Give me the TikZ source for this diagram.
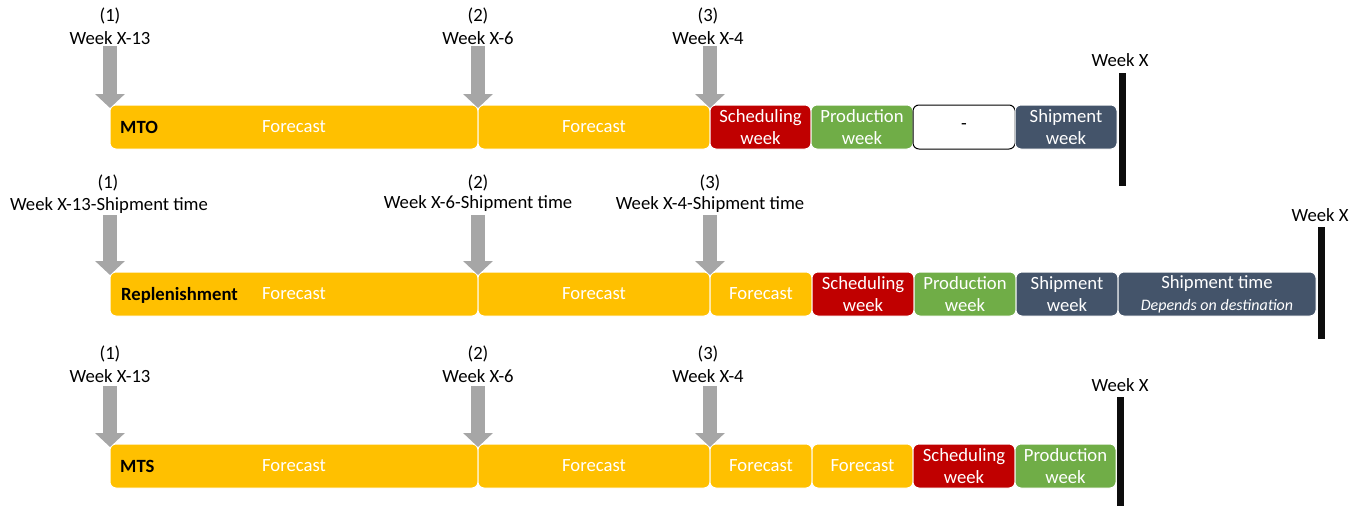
\documentclass[tikz,border=0pt]{standalone}
\usepackage{fontspec}
\setmainfont{Carlito}
\usetikzlibrary{arrows.meta}
\definecolor{fcyel}{HTML}{FFC000}
\definecolor{schred}{HTML}{C00000}
\definecolor{prodgreen}{HTML}{70AD47}
\definecolor{shipslate}{HTML}{44546A}
\definecolor{arrowgray}{HTML}{A6A6A6}
\definecolor{barblack}{HTML}{0D0D0D}
\newcommand\lblfont{\fontsize{18.67}{22}\selectfont}
\newcommand\boxfont{\fontsize{18.67}{22}\selectfont}
\newcommand\notefont{\fontsize{16}{20}\selectfont\itshape}
\begin{document}
\begin{tikzpicture}[x=1pt,y=-1pt,
  lbl/.style={font=\lblfont, inner sep=0pt, text=black},
  kind/.style={font=\lblfont\bfseries, inner sep=0pt, text=black, anchor=west},
  bx/.style={rounded corners=6pt, draw=white, line width=1pt, minimum height=44pt,
             inner sep=0pt, outer sep=0pt, anchor=north west, font=\boxfont,
             text=white, align=center},
  fcbox/.style={bx, fill=fcyel},
  schbox/.style={bx, fill=schred},
  prodbox/.style={bx, fill=prodgreen},
  shipbox/.style={bx, fill=shipslate},
  emptybox/.style={bx, fill=white, draw=black, text=black},
  garrow/.style={draw=arrowgray, line width=14pt,
                 -{Triangle[width=29pt,length=14pt]}, shorten >=-3pt},
  wkbar/.style={draw=barblack, line width=7pt}
]
\useasboundingbox (0,0) rectangle (1366,506);

% ---------------- MTO ----------------
\node[fcbox, minimum width=368pt] (f11) at (110,105) {Forecast};
\node[fcbox, minimum width=232pt] (f12) at (478,105) {Forecast};
\node[schbox, minimum width=101pt] (s1) at (710,105) {Scheduling\\week};
\node[prodbox, minimum width=102pt] (p1) at (811,105) {Production\\week};
\node[emptybox, minimum width=102pt] (d1) at (913,105) {-};
\node[shipbox, minimum width=102pt] (h1) at (1015,105) {Shipment\\week};
\node[kind] (k1) at (120,127) {MTO};

\node[lbl] (n11) at (110,16) {(1)};
\node[lbl] (w11) at (110,38) {Week X-13};
\node[lbl] (n12) at (478,16) {(2)};
\node[lbl] (w12) at (478,38) {Week X-6};
\node[lbl] (n13) at (708,16) {(3)};
\node[lbl] (w13) at (708,38) {Week X-4};
\coordinate (a11) at (110,46);
\coordinate (a12) at (478,46);
\coordinate (a13) at (710,46);
\draw[garrow] (a11) -- (f11.north west);
\draw[garrow] (a12) -- (f12.north west);
\draw[garrow] (a13) -- (s1.north west);

\coordinate (b1t) at (1122,73);
\coordinate (b1b) at (1122,186);
\draw[wkbar] (b1t) -- (b1b);
\node[lbl] (x1) at (1120,60) {Week X};

% ---------------- Replenishment ----------------
\node[fcbox, minimum width=368pt] (f21) at (110,272) {Forecast};
\node[fcbox, minimum width=232pt] (f22) at (478,272) {Forecast};
\node[fcbox, minimum width=102pt] (f23) at (710,272) {Forecast};
\node[schbox, minimum width=102pt] (s2) at (812,272) {Scheduling\\week};
\node[prodbox, minimum width=102pt] (p2) at (914,272) {Production\\week};
\node[shipbox, minimum width=102pt] (h2) at (1016,272) {Shipment\\week};
\node[shipbox, minimum width=198pt] (t2) at (1118,272) {Shipment time\\{\notefont Depends on destination}};
\node[kind] (k2) at (121,295) {Replenishment};

\node[lbl] (n21) at (108,183) {(1)};
\node[lbl] (w21) at (109,206) {Week X-13-Shipment time};
\node[lbl] (n22) at (478,183) {(2)};
\node[lbl] (w22) at (478,204) {Week X-6-Shipment time};
\node[lbl] (n23) at (710,183) {(3)};
\node[lbl] (w23) at (710,205) {Week X-4-Shipment time};
\coordinate (a21) at (110,215);
\coordinate (a22) at (478,215);
\coordinate (a23) at (710,215);
\draw[garrow] (a21) -- (f21.north west);
\draw[garrow] (a22) -- (f22.north west);
\draw[garrow] (a23) -- (f23.north west);

\coordinate (b2t) at (1321,227);
\coordinate (b2b) at (1321,339);
\draw[wkbar] (b2t) -- (b2b);
\node[lbl] (x2) at (1320,215) {Week X};

% ---------------- MTS ----------------
\node[fcbox, minimum width=368pt] (f31) at (110,444) {Forecast};
\node[fcbox, minimum width=232pt] (f32) at (478,444) {Forecast};
\node[fcbox, minimum width=102pt] (f33) at (710,444) {Forecast};
\node[fcbox, minimum width=101pt] (f34) at (812,444) {Forecast};
\node[schbox, minimum width=102pt] (s3) at (913,444) {Scheduling\\week};
\node[prodbox, minimum width=101pt] (p3) at (1015,444) {Production\\week};
\node[kind] (k3) at (120,466) {MTS};

\node[lbl] (n31) at (110,354) {(1)};
\node[lbl] (w31) at (110,376) {Week X-13};
\node[lbl] (n32) at (478,354) {(2)};
\node[lbl] (w32) at (478,376) {Week X-6};
\node[lbl] (n33) at (708,354) {(3)};
\node[lbl] (w33) at (708,376) {Week X-4};
\coordinate (a31) at (110,386);
\coordinate (a32) at (478,386);
\coordinate (a33) at (710,386);
\draw[garrow] (a31) -- (f31.north west);
\draw[garrow] (a32) -- (f32.north west);
\draw[garrow] (a33) -- (f33.north west);

\coordinate (b3t) at (1120,397);
\coordinate (b3b) at (1120,506);
\draw[wkbar] (b3t) -- (b3b);
\node[lbl] (x3) at (1120,385) {Week X};
\end{tikzpicture}
\end{document}
